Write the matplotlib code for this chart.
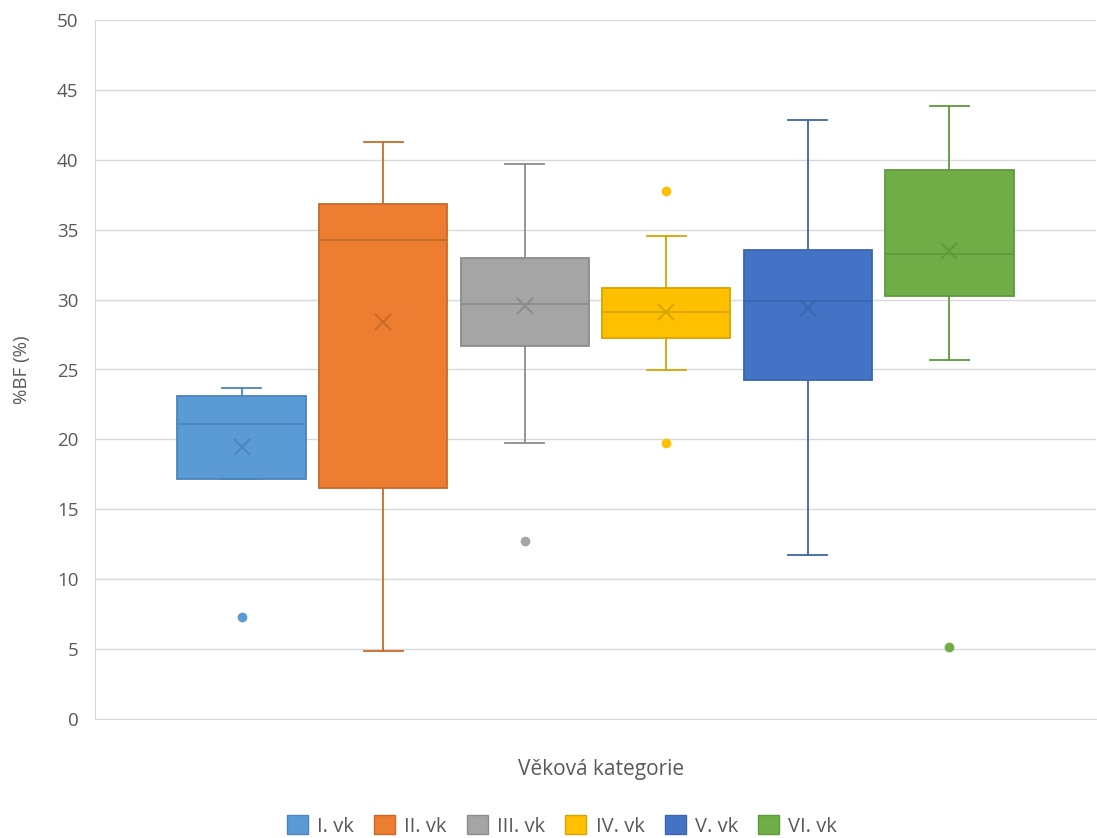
import matplotlib
matplotlib.use("Agg")
import matplotlib.pyplot as plt
from matplotlib.patches import Patch

categories = ["I. vk", "II. vk", "III. vk", "IV. vk", "V. vk", "VI. vk"]
q1 = [17.2, 16.5, 26.7, 27.25, 24.25, 30.25]
medians = [21.1, 34.25, 29.7, 29.1, 29.9, 33.25]
q3 = [23.1, 36.85, 33.0, 30.85, 33.55, 39.25]
whislo = [17.2, 4.85, 19.75, 24.95, 11.75, 25.7]
whishi = [23.7, 41.25, 39.7, 34.55, 42.85, 43.85]
means = [19.45, 28.4, 29.55, 29.1, 29.4, 33.5]
fliers = [[7.3], [], [12.7], [37.75, 19.75], [], [5.15]]

fills = ["#5B9BD5", "#ED7D31", "#A5A5A5", "#FFC000", "#4472C4", "#70AD47"]
edges = ["#4A85BD", "#C96A28", "#8C8C8C", "#D9A400", "#3A67AE", "#5F9A3C"]

plt.rcParams['font.family'] = ['Open Sans', 'DejaVu Sans']

fig = plt.figure(figsize=(10.97, 8.38), dpi=100)
ax = fig.add_axes([95/1097, 1-719/838, 1-95/1097-1/1097, (719-20)/838])

stats = []
for i in range(len(categories)):
    stats.append(dict(label=categories[i], q1=q1[i], med=medians[i], q3=q3[i],
                      whislo=whislo[i], whishi=whishi[i], mean=means[i], fliers=fliers[i]))

for i, s in enumerate(stats):
    ax.bxp([s], positions=[i], widths=0.905, patch_artist=True, showmeans=True,
           showfliers=True, capwidths=0.275,
           boxprops=dict(facecolor=fills[i], edgecolor=edges[i], linewidth=1.3),
           medianprops=dict(color=edges[i], linewidth=1.3),
           whiskerprops=dict(color=edges[i], linewidth=1.3),
           capprops=dict(color=edges[i], linewidth=1.3),
           meanprops=dict(marker='x', markeredgecolor=edges[i], markersize=11, markeredgewidth=1.4),
           flierprops=dict(marker='o', markerfacecolor=fills[i], markeredgecolor=fills[i], markersize=6),
           zorder=3)

ax.set_xlim(-1.035, 6.035)
ax.set_ylim(0, 50)
ax.set_yticks(range(0, 51, 5))
ax.set_xticks([])
ax.yaxis.grid(True, color="#D9D9D9", linewidth=1.0)
ax.set_axisbelow(True)
for sp in ["top", "right"]:
    ax.spines[sp].set_visible(False)
ax.spines["left"].set_color("#D9D9D9")
ax.spines["bottom"].set_color("#D9D9D9")
ax.tick_params(axis='y', length=0, pad=12, labelsize=13.5, labelcolor="#595959")

fig.text(601/1097, 1-769/838, "Věková kategorie", ha="center", va="center", fontsize=15, color="#595959")
fig.text(22/1097, 1-370/838, "%BF (%)", ha="center", va="center", rotation=90, fontsize=13.5, color="#595959")

handles = [Patch(facecolor=fills[i], edgecolor=edges[i], label=categories[i]) for i in range(len(categories))]
fig.legend(handles=handles, loc="center", bbox_to_anchor=(562/1097, 1-826/838), ncol=6, frameon=False,
           fontsize=14.5, labelcolor="#595959", handlelength=1.05, handleheight=1.05, columnspacing=1.0, handletextpad=0.45,
           borderaxespad=0, borderpad=0)

fig.savefig("out.png", dpi=100)
